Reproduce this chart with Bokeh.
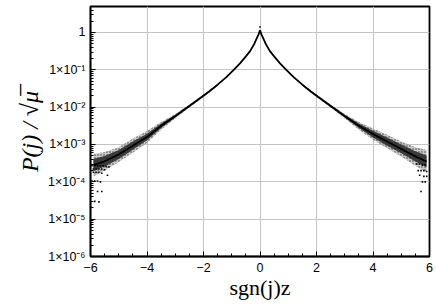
from bokeh.plotting import figure
from bokeh.models import FixedTicker, CustomJSTickFormatter, Range1d
from bokeh.embed import file_html
from bokeh.resources import INLINE

# ---- data ----
# central curve, right branch (sgn(j)z > 0)
xr = [0.0, 0.05, 0.1, 0.2, 0.35, 0.5, 0.7, 0.93, 1.2, 1.5, 1.8, 2.1, 2.5, 3.0, 3.5, 4.0, 4.5, 5.0, 5.5, 5.9]
pr_mid = [1.15, 0.89, 0.74, 0.50, 0.316, 0.229, 0.151, 0.100, 0.063, 0.040, 0.0263, 0.0178, 0.0107, 0.00575,
          0.00316, 0.0019, 0.0012, 0.00076, 0.00048, 0.00035]
# central curve, left branch (sgn(j)z < 0)
xl = [-5.9, -5.5, -5.0, -4.5, -4.0, -3.5, -3.0, -2.5, -2.1, -1.8, -1.5, -1.2, -0.93, -0.7, -0.5, -0.35, -0.2, -0.1, -0.05, 0.0]
pl_mid = [0.00028, 0.000355, 0.00054, 0.00093, 0.00158, 0.00316, 0.00575, 0.0107, 0.0178, 0.0263, 0.040, 0.063,
          0.100, 0.151, 0.229, 0.316, 0.50, 0.74, 0.89, 1.15]

# spread of the scattered points (outer envelope and dense core), right branch
xbr = [1.5, 1.8, 2.1, 2.5, 3.0, 3.5, 4.0, 4.5, 5.0, 5.5, 5.9]
pr_out_hi = [0.0417, 0.0282, 0.0193, 0.0117, 0.0066, 0.0040, 0.0027, 0.00182, 0.0012, 0.00085, 0.00071]
pr_out_lo = [0.038, 0.0245, 0.0164, 0.0098, 0.0050, 0.0025, 0.00135, 0.00079, 0.00048, 0.00027, 0.00018]
pr_in_hi = [0.0409, 0.0274, 0.0186, 0.01135, 0.00624, 0.00363, 0.00234, 0.00155, 0.0010, 0.00066, 0.00051]
pr_in_lo = [0.0387, 0.0252, 0.0170, 0.0101, 0.0053, 0.00275, 0.00155, 0.00093, 0.00058, 0.00035, 0.000245]
# left branch
xbl = [-5.9, -5.5, -5.0, -4.5, -4.0, -3.5, -3.0, -2.5, -2.1, -1.8, -1.5]
pl_out_hi = [0.00056, 0.00063, 0.00085, 0.00145, 0.00229, 0.0040, 0.0066, 0.0117, 0.0193, 0.0282, 0.0417]
pl_out_lo = [0.00014, 0.0002, 0.00034, 0.0006, 0.0011, 0.0025, 0.0050, 0.0098, 0.0164, 0.0245, 0.038]
pl_in_hi = [0.00041, 0.00049, 0.00071, 0.0012, 0.00195, 0.00363, 0.00624, 0.01135, 0.0186, 0.0274, 0.0409]
pl_in_lo = [0.000195, 0.000257, 0.00041, 0.00072, 0.00129, 0.00275, 0.0053, 0.0101, 0.0170, 0.0252, 0.0387]

# isolated points in the tails / above the cusp
xs_stray = [-5.95, -5.85, -5.75, -5.65, -5.55, -5.45, -5.35, -5.9, -5.8, -5.7, -5.6, -5.5, -5.9, -5.8, -5.7, -5.6,
            -5.95, -5.85, -5.75, -5.65, -5.75, -5.6, -5.85, -5.7, -5.4,
            5.55, 5.65, 5.75, 5.85, 5.6, 5.7, 5.8, 5.9, 5.65, 5.8, 5.9, 5.85, 5.75, 5.7, 0.0]
ps_stray = [2.7e-4, 2.7e-4, 2.7e-4, 2.7e-4, 2.7e-4, 2.6e-4, 2.5e-4, 2.2e-4, 2.2e-4, 2.2e-4, 2.2e-4, 2.1e-4, 1.8e-4, 1.8e-4, 1.8e-4, 1.7e-4,
            1.05e-4, 1.05e-4, 1.05e-4, 1.0e-4, 5.5e-5, 5.5e-5, 3.0e-5, 2.9e-5, 1.5e-4,
            3.0e-4, 3.0e-4, 2.8e-4, 2.8e-4, 2.0e-4, 2.0e-4, 2.0e-4, 1.9e-4, 1.5e-4, 1.4e-4, 1.4e-4, 1.0e-4, 1.0e-4, 5.5e-5, 1.4]

x_ticks = [-6, -4, -2, 0, 2, 4, 6]
y_ticks = [1e-6, 1e-5, 1e-4, 1e-3, 1e-2, 1e-1, 1]
y_tick_labels = ["1×10⁻⁶", "1×10⁻⁵", "1×10⁻⁴", "1×10⁻³", "1×10⁻²", "1×10⁻¹", "1"]
x_title = "sgn(j)z"
y_title = "P(j) / √μ\u0305"

p = figure(width=434, height=306, y_axis_type="log",
           x_range=Range1d(-6, 6), y_range=Range1d(1e-6, 4.97),
           output_backend="svg", toolbar_location=None,
           min_border_left=90, min_border_right=5, min_border_top=6, min_border_bottom=50)

# band of scattered points
for x, lo, hi in ((xbr, pr_out_lo, pr_out_hi), (xbl, pl_out_lo, pl_out_hi)):
    p.varea(x=x, y1=lo, y2=hi, fill_color="#8a8a8a", fill_alpha=0.45,
            hatch_pattern="dot", hatch_color="black", hatch_scale=3, hatch_weight=1, hatch_alpha=0.7)
for x, lo, hi in ((xbr, pr_in_lo, pr_in_hi), (xbl, pl_in_lo, pl_in_hi)):
    p.varea(x=x, y1=lo, y2=hi, fill_color="#262626", fill_alpha=0.85)
for x, m in ((xr, pr_mid), (xl, pl_mid)):
    p.line(x=x, y=m, line_color="black", line_width=1.8)
p.scatter(x=xs_stray, y=ps_stray, marker="square", size=1.6, color="black", line_width=0)

# axes and ticks
p.xaxis.ticker = FixedTicker(ticks=x_ticks, minor_ticks=[-6 + 0.5 * i for i in range(25)])
minor_y = [m * 10.0 ** e for e in range(-6, 1) for m in range(2, 10)]
p.yaxis.ticker = FixedTicker(ticks=y_ticks, minor_ticks=minor_y)
p.yaxis.formatter = CustomJSTickFormatter(args=dict(tick_vals=y_ticks, tick_labels=y_tick_labels), code="""
    for (let i = 0; i < tick_vals.length; i++) {
        if (Math.abs(Math.log10(tick) - Math.log10(tick_vals[i])) < 0.01) return tick_labels[i];
    }
    return "";
""")

for ax in (p.xaxis[0], p.yaxis[0]):
    ax.axis_line_color = "black"
    ax.axis_line_width = 1.5
    ax.major_tick_in = 5
    ax.major_tick_out = 0
    ax.minor_tick_in = 3
    ax.minor_tick_out = 0
    ax.major_tick_line_color = "black"
    ax.minor_tick_line_color = "black"
    ax.major_label_text_font = "Liberation Sans"
    ax.major_label_text_font_size = "12.5px"
    ax.major_label_text_color = "black"
    ax.axis_label_text_font = "Liberation Serif"
    ax.axis_label_text_color = "black"

p.xaxis.major_label_standoff = 6
p.yaxis.major_label_standoff = 5
p.xaxis.axis_label = x_title
p.xaxis.axis_label_text_font_size = "22px"
p.xaxis.axis_label_text_font_style = "normal"
p.xaxis.axis_label_standoff = 0
p.yaxis.axis_label = y_title
p.yaxis.axis_label_text_font_size = "24px"
p.yaxis.axis_label_text_font_style = "italic"
p.yaxis.axis_label_standoff = 2

p.xgrid.ticker = FixedTicker(ticks=x_ticks)
p.ygrid.ticker = FixedTicker(ticks=y_ticks)
p.grid.grid_line_color = "#c4c4c4"
p.grid.grid_line_width = 1

p.outline_line_color = "black"
p.outline_line_width = 1.8
p.outline_line_alpha = 1
p.background_fill_color = "white"
p.border_fill_color = "white"

open("out.html", "w").write(file_html(p, INLINE))
